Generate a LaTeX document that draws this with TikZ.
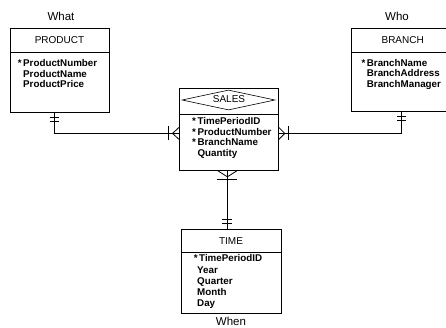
\documentclass[tikz,border=0pt]{standalone}
\usepackage{fontspec}
\setmainfont{Liberation Sans}
\usetikzlibrary{shapes.geometric}
\begin{document}
\begin{tikzpicture}[x=1pt,y=-1pt,
  ebox/.style={draw, line width=0.8pt, inner sep=0pt, anchor=north west},
  ln/.style={line width=0.8pt},
  ttl/.style={inner sep=0pt, font=\fontsize{10}{12}\selectfont},
  lbl/.style={inner sep=0pt, font=\fontsize{11.5}{13}\selectfont},
  attr/.style={anchor=base west, inner sep=0pt, font=\bfseries\fontsize{9.8}{11}\selectfont}
]
\useasboundingbox (0,0) rectangle (446,328);
\clip (0,0) rectangle (446,328);

% ---------- PRODUCT ----------
\node[lbl] (what) at (61,16) {What};
\node[ebox, minimum width=99pt, minimum height=84pt] (product) at (10,28) {};
\draw[ln] (product.north west) ++(0,24) coordinate (pd1) -- (pd1 -| product.east);
\node[ttl] (productT) at (59.5,40) {PRODUCT};
\node[attr] (pa1) at (23,66.7) {\llap{*\hspace{1.5pt}}ProductNumber};
\node[attr] (pa2) at (23,77.2) {ProductName};
\node[attr] (pa3) at (23,87.7) {ProductPrice};

% ---------- BRANCH ----------
\node[lbl] (who) at (397,16) {Who};
\node[ebox, minimum width=112pt, minimum height=83pt] (branch) at (351,28) {};
\draw[ln] (branch.north west) ++(0,24) coordinate (bd1) -- (bd1 -| branch.east);
\node[ttl] (branchT) at (402.7,40) {BRANCH};
\node[attr] (ba1) at (366.7,66.5) {\llap{*\hspace{1.5pt}}BranchName};
\node[attr] (ba2) at (366.7,77) {BranchAddress};
\node[attr] (ba3) at (366.7,87.5) {BranchManager};

% ---------- SALES ----------
\node[ebox, minimum width=99pt, minimum height=82pt] (sales) at (179,88) {};
\draw[ln] (sales.north west) ++(0,26) coordinate (sd1) -- (sd1 -| sales.east);
\node[diamond, draw, line width=0.6pt, minimum width=93pt, minimum height=20pt, inner sep=0pt] (salesD) at (228.5,100) {};
\node[ttl] (salesT) at (229,99.5) {SALES};
\node[attr] (sa1) at (197.3,124.2) {\llap{*\hspace{1.5pt}}TimePeriodID};
\node[attr] (sa2) at (197.3,135.5) {\llap{*\hspace{1.5pt}}ProductNumber};
\node[attr] (sa3) at (197.3,146) {\llap{*\hspace{1.5pt}}BranchName};
\node[attr] (sa4) at (197.3,157) {Quantity};

% ---------- TIME ----------
\node[ebox, minimum width=100pt, minimum height=84pt] (time) at (181,229) {};
\draw[ln] (time.north west) ++(0,23) coordinate (td1) -- (td1 -| time.east);
\node[ttl] (timeT) at (231,240.7) {TIME};
\node[attr] (ta1) at (199,261.8) {\llap{*\hspace{1.5pt}}TimePeriodID};
\node[attr] (ta2) at (197,273.5) {Year};
\node[attr] (ta3) at (197,284.2) {Quarter};
\node[attr] (ta4) at (197,295.2) {Month};
\node[attr] (ta5) at (197,306.2) {Day};
\node[lbl] (when) at (231,321.5) {When};

% ---------- connectors ----------
% PRODUCT -> SALES
\draw[ln] (product.south west) ++(44,0) coordinate (pc) |- ([yshift=-4pt]sales.west) coordinate (sw);
\draw[ln] (pc) ++(-4.5,5) -- ++(9,0);
\draw[ln] (pc) ++(-4.5,9) -- ++(9,0);
\draw[ln] (sw) ++(-10.5,-7) -- ++(0,14);
\draw[ln] (sw) ++(-6.5,0) -- ++(6.5,-6);
\draw[ln] (sw) ++(-6.5,0) -- ++(6.5,6);

% BRANCH -> SALES
\draw[ln] (branch.south west) ++(50.7,0) coordinate (bc) |- ([yshift=-4pt]sales.east) coordinate (se);
\draw[ln] (bc) ++(-4.5,5) -- ++(9,0);
\draw[ln] (bc) ++(-4.5,9) -- ++(9,0);
\draw[ln] (se) ++(10,-7) -- ++(0,14);
\draw[ln] (se) ++(6,0) -- ++(-6,-6);
\draw[ln] (se) ++(6,0) -- ++(-6,6);

% SALES -> TIME
\draw[ln] (sales.south) ++(-1.5,0) coordinate (sc) -- (sc |- time.north) coordinate (tc);
\draw[ln] (sc) ++(-9.5,0) -- ++(9.5,6) -- ++(9.5,-6);
\draw[ln] (sc) ++(-10,9) -- ++(20,0);
\draw[ln] (tc) ++(-5,-10) -- ++(10,0);
\draw[ln] (tc) ++(-5,-6) -- ++(10,0);
\end{tikzpicture}
\end{document}
